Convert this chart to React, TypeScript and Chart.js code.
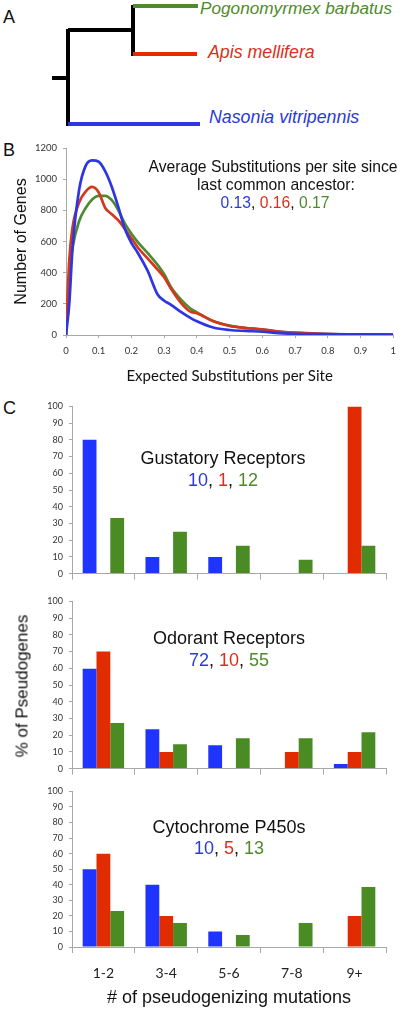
import React, { useEffect, useRef } from "react";
import { Chart, registerables } from "chart.js";

Chart.register(...registerables);

// ---------- DATA ----------
const species = ["Nasonia vitripennis", "Apis mellifera", "Pogonomyrmex barbatus"];

// Panel B: distribution of expected substitutions per site
const subsX = [0, 0.01, 0.02, 0.04, 0.06, 0.08, 0.1, 0.12, 0.14, 0.16, 0.18, 0.2, 0.22, 0.25, 0.28, 0.3, 0.32, 0.35, 0.38, 0.4, 0.45, 0.5, 0.55, 0.6, 0.65, 0.7, 0.8, 0.9, 1.0];
const nasoniaGenes = [0, 200, 560, 930, 1085, 1120, 1112, 1050, 950, 820, 680, 590, 525, 410, 260, 220, 195, 150, 110, 88, 48, 32, 26, 21, 12, 7, 5, 4, 3];
const apisGenes = [0, 480, 690, 850, 920, 950, 915, 815, 775, 735, 680, 620, 560, 490, 420, 370, 300, 210, 150, 140, 88, 58, 45, 36, 22, 15, 6, 3, 2];
const pogoGenes = [0, 380, 560, 730, 815, 870, 893, 893, 865, 800, 715, 650, 595, 525, 450, 390, 310, 230, 170, 145, 90, 60, 45, 35, 22, 14, 6, 3, 2];
const avgSubs = ["0.13", "0.16", "0.17"];

// Panel C: % of pseudogenes by number of pseudogenizing mutations
const mutationBins = ["1-2", "3-4", "5-6", "7-8", "9+"];
const grNasonia = [80, 10, 10, 0, 0];
const grApis = [0, 0, 0, 0, 100];
const grPogo = [33.3, 25, 16.7, 8.3, 16.7];
const grCounts = ["10", "1", "12"];
const orNasonia = [59.7, 23.6, 13.9, 0, 2.8];
const orApis = [70, 10, 0, 10, 10];
const orPogo = [27.3, 14.5, 18.2, 18.2, 21.8];
const orCounts = ["72", "10", "55"];
const p450Nasonia = [50, 40, 10, 0, 0];
const p450Apis = [60, 20, 0, 0, 20];
const p450Pogo = [23.1, 15.4, 7.7, 15.4, 38.5];
const p450Counts = ["10", "5", "13"];

// ---------- STYLE ----------
const TXT_BLUE = "#2b3ad8";
const TXT_RED = "#d8301c";
const TXT_GREEN = "#4e8a2c";
const LINE_BLUE = "#2d36e0";
const LINE_RED = "#d2381e";
const LINE_GREEN = "#4f8a2f";
const BAR_BLUE = "#1f35ff";
const BAR_RED = "#e02c00";
const BAR_GREEN = "#4b8b24";
const AXIS = "#a8a8a8";
const ARIAL = "'Liberation Sans', Arial, sans-serif";
const CALIBRI = "Lato, 'Open Sans', sans-serif";

function ChartBox({ left, top, width, height, make }: any) {
  const ref = useRef<HTMLCanvasElement>(null);
  useEffect(() => {
    const chart = new Chart(ref.current as HTMLCanvasElement, make());
    return () => chart.destroy();
  }, []);
  return (
    <canvas
      ref={ref}
      width={width}
      height={height}
      style={{ position: "absolute", left, top, width, height }}
    />
  );
}

function Text({ x, y, children, size, align = "center", style = {} }: any) {
  const tx = align === "center" ? "-50%" : align === "right" ? "-100%" : "0";
  return (
    <div
      style={{
        position: "absolute",
        left: x,
        top: y,
        transform: `translate(${tx}, -50%)`,
        fontFamily: ARIAL,
        fontSize: size,
        lineHeight: 1,
        whiteSpace: "nowrap",
        color: "#111",
        ...style,
      }}
    >
      {children}
    </div>
  );
}

function Seg({ x1, y1, x2, y2, color, w = 3.3 }: any) {
  const horiz = y1 === y2;
  return (
    <div
      style={{
        position: "absolute",
        left: horiz ? x1 : x1 - w / 2,
        top: horiz ? y1 - w / 2 : y1,
        width: horiz ? x2 - x1 : w,
        height: horiz ? w : y2 - y1,
        background: color,
      }}
    />
  );
}

function Counts({ vals }: { vals: string[] }) {
  const cols = [TXT_BLUE, TXT_RED, TXT_GREEN];
  return (
    <>
      {vals.map((v, i) => (
        <React.Fragment key={i}>
          <span style={{ color: cols[i] }}>{v}</span>
          {i < vals.length - 1 ? <span style={{ color: "#111" }}>, </span> : null}
        </React.Fragment>
      ))}
    </>
  );
}

function lineConfig() {
  const H = 260;
  const mk = (label: string, vals: number[], color: string, order: number) => ({
    label,
    data: subsX.map((x, i) => ({ x, y: vals[i] })),
    borderColor: color,
    borderWidth: 2.7,
    pointRadius: 0,
    fill: false,
    cubicInterpolationMode: "monotone",
    order,
  });
  return {
    type: "line",
    data: {
      datasets: [
        mk(species[0], nasoniaGenes, LINE_BLUE, 0),
        mk(species[1], apisGenes, LINE_RED, 1),
        mk(species[2], pogoGenes, LINE_GREEN, 2),
      ],
    },
    options: {
      responsive: false,
      animation: false,
      devicePixelRatio: 1,
      layout: { padding: { top: 18, right: 6, left: 0, bottom: 0 } },
      plugins: { legend: { display: false }, tooltip: { enabled: false } },
      scales: {
        x: {
          type: "linear",
          min: 0,
          max: 1,
          ticks: {
            stepSize: 0.1,
            autoSkip: false,
            maxRotation: 0,
            font: { family: CALIBRI, size: 9.5 },
            color: "#333",
            padding: 7,
            callback: (v: number) => String(Math.round(v * 10) / 10),
          },
          grid: { drawOnChartArea: false, tickLength: 3, color: AXIS },
          border: { color: AXIS },
          title: {
            display: true,
            text: "Expected Substitutions per Site",
            font: { family: CALIBRI, size: 15, lineHeight: 1.2 },
            color: "#111",
            padding: { top: 0, bottom: 5 },
          },
          afterFit: (s: any) => {
            s.height = H - 205;
          },
        },
        y: {
          min: 0,
          max: 1200,
          ticks: {
            stepSize: 200,
            font: { family: CALIBRI, size: 9.5 },
            color: "#333",
            padding: 6,
            callback: (v: number) => String(v),
          },
          grid: { drawOnChartArea: false, tickLength: 3, color: AXIS },
          border: { color: AXIS },
          title: {
            display: true,
            text: "Number of Genes",
            font: { family: ARIAL, size: 16, lineHeight: 1.2 },
            color: "#111",
            padding: { top: 12, bottom: 0 },
          },
          afterFit: (s: any) => {
            s.width = 66;
          },
        },
      },
    },
  };
}

function barConfig(nas: number[], apis: number[], pogo: number[], H: number, bottom: number, showLabels: boolean) {
  return {
    type: "bar",
    data: {
      labels: mutationBins,
      datasets: [
        { label: species[0], data: nas, backgroundColor: BAR_BLUE },
        { label: species[1], data: apis, backgroundColor: BAR_RED },
        { label: species[2], data: pogo, backgroundColor: BAR_GREEN },
      ],
    },
    options: {
      responsive: false,
      animation: false,
      devicePixelRatio: 1,
      layout: { padding: { top: 7, right: 17, left: 0, bottom: 0 } },
      plugins: { legend: { display: false }, tooltip: { enabled: false } },
      datasets: { bar: { categoryPercentage: 0.66, barPercentage: 1 } },
      scales: {
        x: {
          grid: { offset: true, drawOnChartArea: false, tickLength: 6, color: AXIS },
          border: { color: AXIS },
          ticks: {
            display: showLabels,
            font: { family: CALIBRI, size: 14 },
            color: "#222",
            padding: 12,
          },
          title: showLabels
            ? {
                display: true,
                text: "# of pseudogenizing mutations",
                font: { family: ARIAL, size: 18, lineHeight: 1.2 },
                color: "#111",
                padding: { top: 0, bottom: 0 },
              }
            : { display: false },
          afterFit: (s: any) => {
            s.height = H - bottom;
          },
        },
        y: {
          min: 0,
          max: 100,
          ticks: {
            stepSize: 10,
            font: { family: CALIBRI, size: 9 },
            color: "#333",
            padding: 6,
          },
          grid: { drawOnChartArea: false, tickLength: 3, color: AXIS },
          border: { color: AXIS },
          afterFit: (s: any) => {
            s.width = 72;
          },
        },
      },
    },
  };
}

export default function App() {
  return (
    <div
      style={{
        position: "absolute",
        left: 0,
        top: 0,
        width: 403,
        height: 1009,
        background: "#fff",
        overflow: "hidden",
      }}
    >
      {/* Panel A: tree */}
      <Text x={3} y={17} size={18} align="left">A</Text>
      <Seg x1={52} y1={78} x2={68} y2={78} color="#000" />
      <Seg x1={68} y1={28.5} x2={68} y2={125.5} color="#000" />
      <Seg x1={68} y1={30} x2={133} y2={30} color="#000" />
      <Seg x1={133} y1={4.5} x2={133} y2={55.5} color="#000" />
      <Seg x1={133} y1={6} x2={198} y2={6} color={LINE_GREEN} />
      <Seg x1={133} y1={54} x2={197} y2={54} color={BAR_RED} />
      <Seg x1={68} y1={124} x2={200} y2={124} color={LINE_BLUE} />
      <Text x={200} y={9} size={17.2} align="left" style={{ color: TXT_GREEN, fontStyle: "italic" }}>Pogonomyrmex barbatus</Text>
      <Text x={208} y={53} size={17.8} align="left" style={{ color: TXT_RED, fontStyle: "italic" }}>Apis mellifera</Text>
      <Text x={209} y={118} size={17.8} align="left" style={{ color: TXT_BLUE, fontStyle: "italic" }}>Nasonia vitripennis</Text>

      {/* Panel B */}
      <Text x={3} y={150} size={18} align="left">B</Text>
      <ChartBox left={0} top={130} width={403} height={260} make={lineConfig} />
      <Text x={273} y={167} size={15.7}>Average Substitutions per site since</Text>
      <Text x={276} y={185} size={15.7}>last common ancestor:</Text>
      <Text x={275} y={203} size={15.7}><Counts vals={avgSubs} /></Text>

      {/* Panel C */}
      <Text x={3} y={408} size={18} align="left">C</Text>
      <ChartBox left={0} top={395} width={403} height={190} make={() => barConfig(grNasonia, grApis, grPogo, 190, 179, false)} />
      <ChartBox left={0} top={590} width={403} height={190} make={() => barConfig(orNasonia, orApis, orPogo, 190, 179, false)} />
      <ChartBox left={0} top={780} width={403} height={229} make={() => barConfig(p450Nasonia, p450Apis, p450Pogo, 229, 167, true)} />
      <Text x={223} y={458} size={18}>Gustatory Receptors</Text>
      <Text x={223} y={480} size={18}><Counts vals={grCounts} /></Text>
      <Text x={229} y={638} size={18}>Odorant Receptors</Text>
      <Text x={229} y={660} size={18}><Counts vals={orCounts} /></Text>
      <Text x={229} y={827} size={18}>Cytochrome P450s</Text>
      <Text x={229} y={848} size={18}><Counts vals={p450Counts} /></Text>
      <div
        style={{
          position: "absolute",
          left: 22,
          top: 686,
          transform: "translate(-50%, -50%) rotate(-90deg)",
          fontFamily: ARIAL,
          fontSize: 17,
          lineHeight: 1,
          whiteSpace: "nowrap",
          color: "#111",
        }}
      >
        % of Pseudogenes
      </div>
    </div>
  );
}
